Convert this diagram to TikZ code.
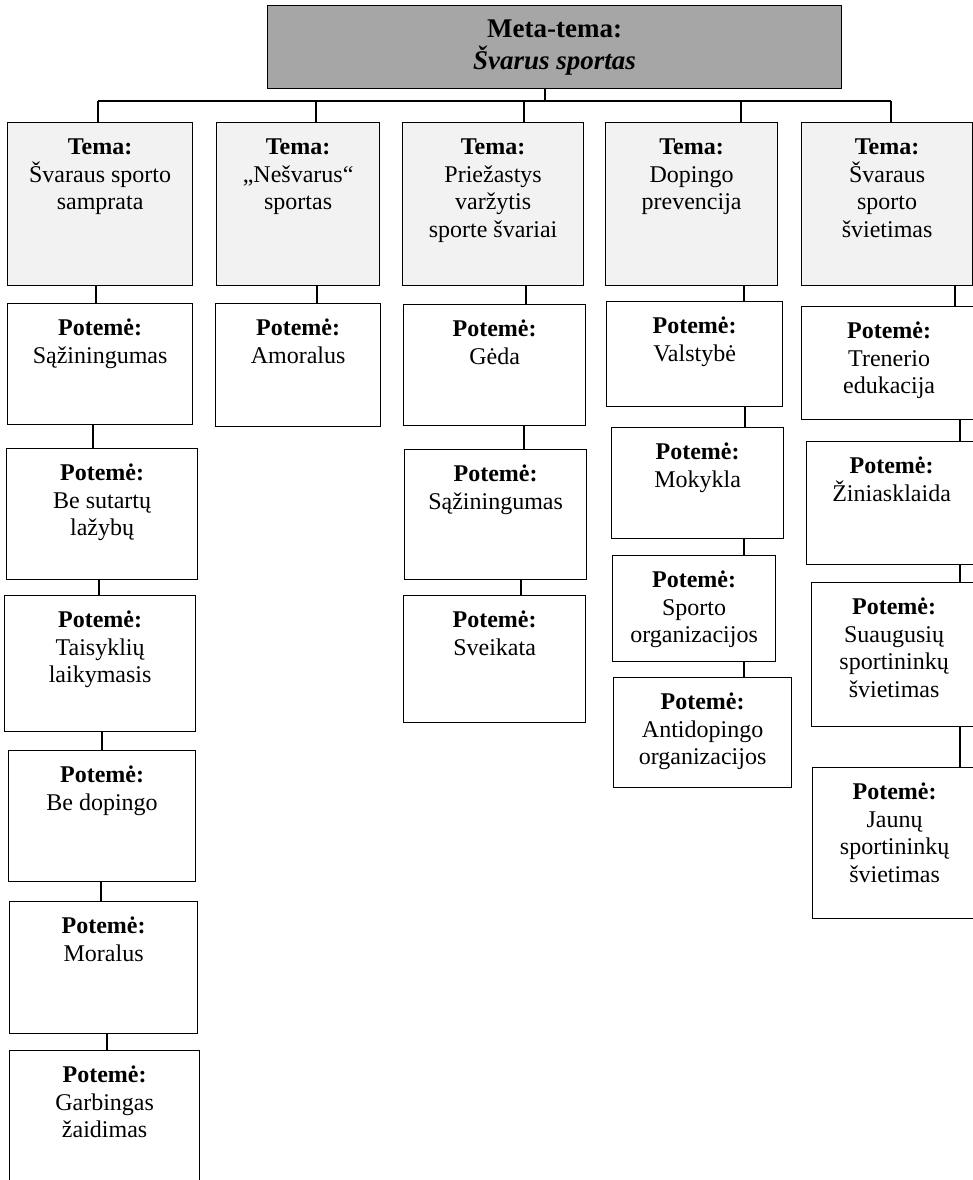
\documentclass[tikz,border=0pt]{standalone}
\usepackage{fontspec}
\setmainfont{Liberation Serif}
\newcommand{\boxText}[3]{\parbox[c][#2][t]{#1}{\centering\rule{0pt}{32pt}#3\par}}

\begin{document}
\begin{tikzpicture}[
        x=1pt, y=-1pt,
        line width=1.2pt,
        font=\fontsize{24}{27.5}\selectfont,
        metaNode/.style={rectangle, draw, fill=black!35, inner sep=0pt, align=center, anchor=north west,
            font=\fontsize{27}{32}\selectfont\bfseries},
        temaNode/.style={rectangle, draw, fill=black!5, inner sep=0pt, anchor=north west},
        potemeNode/.style={rectangle, draw, fill=white, inner sep=0pt, anchor=north west}
    ]
        \useasboundingbox (0,0) rectangle (973,1180);
        \clip (0,0) rectangle (973,1180);

        % Meta-tema
        \node[metaNode, minimum width=574pt, minimum height=83pt] (meta) at (267,5)
            {Meta-tema:\\\textit{Švarus sportas}};

        % Temos
        \node[temaNode] (t1) at (7,122) {\boxText{185pt}{163pt}{\textbf{Tema:}\\Švaraus sporto\\samprata}};
        \node[temaNode] (t2) at (216,122) {\boxText{163pt}{163pt}{\textbf{Tema:}\\„Nešvarus“\\sportas}};
        \node[temaNode] (t3) at (402,122) {\boxText{181pt}{163pt}{\textbf{Tema:}\\Priežastys\\varžytis\\sporte švariai}};
        \node[temaNode] (t4) at (605,122) {\boxText{172pt}{163pt}{\textbf{Tema:}\\Dopingo\\prevencija}};
        \node[temaNode] (t5) at (801,122) {\boxText{171pt}{163pt}{\textbf{Tema:}\\Švaraus\\sporto\\švietimas}};

        % Potemes: samprata
        \node[potemeNode] (p11) at (7,303) {\boxText{185pt}{121pt}{\textbf{Potemė:}\\Sąžiningumas}};
        \node[potemeNode] (p12) at (6,448) {\boxText{191pt}{131pt}{\textbf{Potemė:}\\Be sutartų\\lažybų}};
        \node[potemeNode] (p13) at (4,595) {\boxText{191pt}{136pt}{\textbf{Potemė:}\\Taisyklių\\laikymasis}};
        \node[potemeNode] (p14) at (8,750) {\boxText{187pt}{131pt}{\textbf{Potemė:}\\Be dopingo}};
        \node[potemeNode] (p15) at (9,901) {\boxText{188pt}{132pt}{\textbf{Potemė:}\\Moralus}};
        \node[potemeNode] (p16) at (9,1050) {\boxText{190pt}{150pt}{\textbf{Potemė:}\\Garbingas\\žaidimas}};

        % Potemes: nesvarus sportas
        \node[potemeNode] (p21) at (215,303) {\boxText{165pt}{123pt}{\textbf{Potemė:}\\Amoralus}};

        % Potemes: priezastys
        \node[potemeNode] (p31) at (403,304) {\boxText{182pt}{121pt}{\textbf{Potemė:}\\Gėda}};
        \node[potemeNode] (p32) at (404,449) {\boxText{182pt}{130pt}{\textbf{Potemė:}\\Sąžiningumas}};
        \node[potemeNode] (p33) at (403,595) {\boxText{182pt}{127pt}{\textbf{Potemė:}\\Sveikata}};

        % Potemes: prevencija
        \node[potemeNode] (p41) at (606,301) {\boxText{176pt}{105pt}{\textbf{Potemė:}\\Valstybė}};
        \node[potemeNode] (p42) at (611,427) {\boxText{172pt}{111pt}{\textbf{Potemė:}\\Mokykla}};
        \node[potemeNode] (p43) at (612,555) {\boxText{163pt}{106pt}{\textbf{Potemė:}\\Sporto\\organizacijos}};
        \node[potemeNode] (p44) at (613,677) {\boxText{178pt}{110pt}{\textbf{Potemė:}\\Antidopingo\\organizacijos}};

        % Potemes: svietimas
        \node[potemeNode] (p51) at (801,306) {\boxText{175pt}{113pt}{\textbf{Potemė:}\\Trenerio\\edukacija}};
        \node[potemeNode] (p52) at (806,441) {\boxText{170pt}{123pt}{\textbf{Potemė:}\\Žiniasklaida}};
        \node[potemeNode] (p53) at (811,582) {\boxText{165pt}{144pt}{\textbf{Potemė:}\\Suaugusių\\sportininkų\\švietimas}};
        \node[potemeNode] (p54) at (812,767) {\boxText{164pt}{151pt}{\textbf{Potemė:}\\Jaunų\\sportininkų\\švietimas}};

        % Bus under the meta box
        \coordinate (bus) at (545,101);
        \draw (meta.south -| bus) -- (bus);
        \foreach \t/\dx in {t1/91, t2/100, t3/122, t4/136, t5/90} {
            \path ([xshift=\dx pt]\t.north west) coordinate (\t-top);
            \draw (\t-top) -- (\t-top |- bus);
        }
        \draw (t1-top |- bus) -- (t5-top |- bus);

        % Edges down the columns
        \foreach \a/\b/\da/\db in {t1/p11/89/89, p11/p12/86/87, p12/p13/93/95, p13/p14/98/94,
                p14/p15/93/92, p15/p16/98/98, t2/p21/101/102,
                t3/p31/124/123, p31/p32/121/120, p32/p33/117/118,
                t4/p41/139/138, p41/p42/139/134, p42/p43/133/132, p43/p44/132/131,
                t5/p51/154/154, p51/p52/159/154, p52/p53/154/149, p53/p54/149/148}
            \draw ([xshift=\da pt]\a.south west) -- ([xshift=\db pt]\b.north west);
    \end{tikzpicture}
\end{document}
